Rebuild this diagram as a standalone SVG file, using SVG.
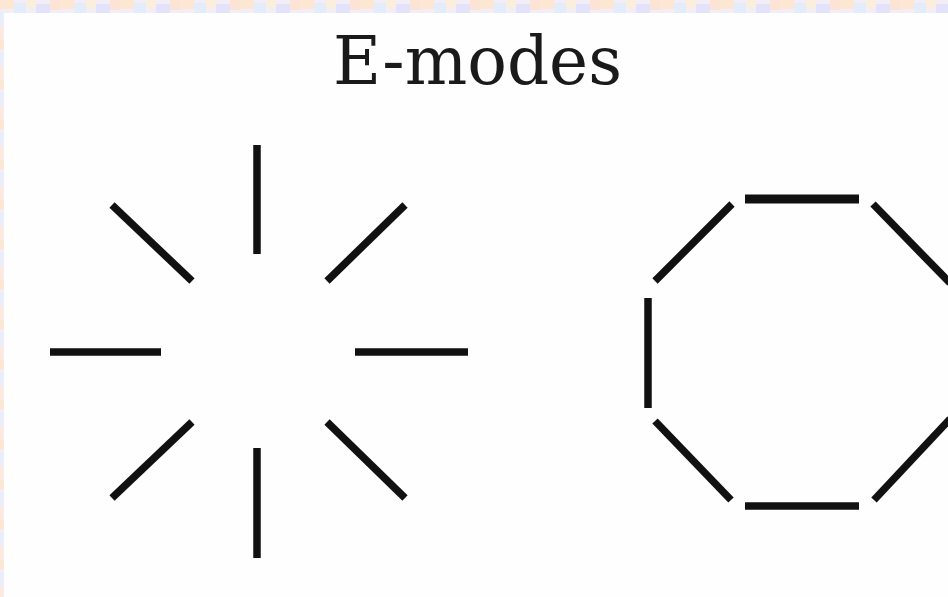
<svg xmlns="http://www.w3.org/2000/svg" width="948" height="597" viewBox="0 0 948 597">
  <style>
    .seg { stroke: #111; stroke-width: 7.5; stroke-linecap: butt; fill: none; }
    .thick { stroke-width: 9; }
    .title { font-family: "DejaVu Serif", "Liberation Serif", serif; font-size: 68px; fill: #1a1a1a; }
  </style>
  <defs>
    <pattern id="noise" width="60" height="40" patternUnits="userSpaceOnUse">
      <rect width="60" height="40" fill="#f3eef6"/>
      <rect x="0" y="0" width="14" height="9" fill="#fde6d2"/>
      <rect x="14" y="3" width="12" height="10" fill="#e3ecfb"/>
      <rect x="26" y="0" width="10" height="8" fill="#fbeedd"/>
      <rect x="36" y="4" width="14" height="9" fill="#e2e2fb"/>
      <rect x="50" y="0" width="10" height="10" fill="#fde3d6"/>
      <rect x="0" y="12" width="3" height="14" fill="#e6eefc"/>
      <rect x="0" y="26" width="3" height="14" fill="#fde9dc"/>
    </pattern>
  </defs>
  <rect width="948" height="597" fill="url(#noise)"/>
  <rect x="4" y="13" width="944" height="584" fill="#fefefe"/>

  <g id="title">
    <text class="title" x="333" y="84" textLength="289" lengthAdjust="spacingAndGlyphs">E-modes</text>
  </g>

  <g id="starburst">
    <line class="seg" x1="257" y1="145" x2="257" y2="254"/>
    <line class="seg" x1="257" y1="448" x2="257" y2="558"/>
    <line class="seg" x1="50" y1="352" x2="161" y2="352"/>
    <line class="seg" x1="355" y1="352" x2="468" y2="352"/>
    <line class="seg" x1="112" y1="205" x2="192" y2="281"/>
    <line class="seg" x1="405" y1="205" x2="327" y2="281"/>
    <line class="seg" x1="192" y1="422" x2="112" y2="498"/>
    <line class="seg" x1="327" y1="422" x2="405" y2="498"/>
  </g>

  <g id="octagon">
    <line class="seg thick" x1="745" y1="199" x2="859" y2="199"/>
    <line class="seg" x1="732" y1="204" x2="655" y2="281"/>
    <line class="seg" x1="648" y1="298" x2="648" y2="408"/>
    <line class="seg" x1="655" y1="421" x2="731" y2="500"/>
    <line class="seg" x1="745" y1="506" x2="859" y2="506"/>
    <line class="seg" x1="874" y1="500" x2="950" y2="419"/>
    <line class="seg" x1="873" y1="204" x2="950" y2="283"/>
    <line class="seg" x1="957" y1="298" x2="957" y2="408"/>
  </g>
</svg>
